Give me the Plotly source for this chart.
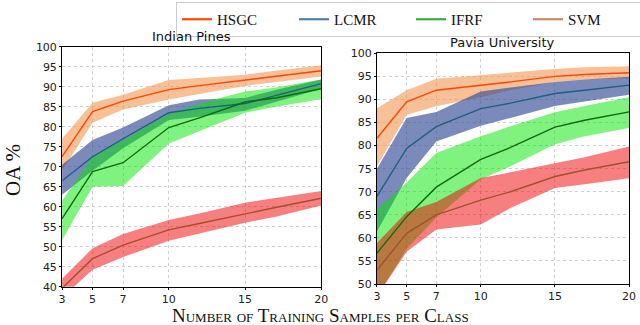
import plotly.graph_objects as go

# training samples per class
x_ip = [3, 5, 7, 10, 12, 15, 17, 20]
x_pu = [3, 5, 7, 10, 12, 15, 17, 20]

# Indian Pines (mean, upper, lower)
hsgc_ip = [72.5, 83.8, 86.4, 89.3, 90.3, 91.7, 92.7, 94.0]
hsgc_ip_hi = [77.0, 86.0, 88.0, 91.7, 92.2, 93.0, 94.0, 95.4]
hsgc_ip_lo = [69.0, 81.0, 84.3, 86.8, 88.2, 90.2, 91.2, 92.6]
lcmr_ip = [66.5, 72.5, 77.0, 83.5, 84.6, 85.8, 87.8, 90.8]
lcmr_ip_hi = [70.5, 76.7, 79.8, 85.4, 86.8, 87.2, 89.2, 91.8]
lcmr_ip_lo = [63.0, 69.0, 74.6, 81.7, 82.5, 84.0, 86.2, 89.5]
ifrf_ip = [57.0, 68.8, 71.0, 79.8, 82.2, 86.2, 87.2, 89.5]
ifrf_ip_hi = [61.5, 72.5, 76.7, 83.2, 85.8, 88.8, 89.8, 91.8]
ifrf_ip_lo = [51.7, 65.0, 65.2, 75.8, 78.8, 83.5, 85.0, 86.9]
svm_ip = [39.6, 47.0, 50.4, 54.2, 55.8, 58.3, 59.8, 62.1]
svm_ip_hi = [42.0, 49.6, 53.2, 56.7, 58.3, 61.0, 62.2, 63.9]
svm_ip_lo = [37.3, 44.2, 47.4, 51.5, 53.3, 56.0, 57.5, 60.3]

# Pavia University
hsgc_pu = [81.6, 89.5, 92.0, 93.0, 93.8, 95.0, 95.4, 95.8]
hsgc_pu_hi = [88.1, 92.0, 94.5, 95.3, 95.8, 96.6, 97.0, 97.2]
hsgc_pu_lo = [75.5, 86.7, 88.5, 90.5, 92.0, 93.8, 94.3, 94.6]
lcmr_pu = [69.0, 79.4, 84.1, 88.0, 89.2, 91.3, 92.0, 93.1]
lcmr_pu_hi = [75.0, 86.0, 87.3, 91.7, 92.6, 93.8, 94.3, 94.9]
lcmr_pu_lo = [61.4, 73.0, 80.9, 84.3, 86.0, 88.6, 89.6, 91.0]
ifrf_pu = [56.7, 64.6, 71.0, 77.0, 79.6, 84.0, 85.5, 87.3]
ifrf_pu_hi = [66.2, 72.0, 78.4, 82.0, 84.2, 87.2, 88.6, 90.5]
ifrf_pu_lo = [47.3, 57.6, 64.4, 72.7, 75.5, 80.3, 82.0, 83.8]
svm_pu = [53.0, 61.0, 65.0, 68.2, 70.0, 73.3, 74.7, 76.5]
svm_pu_hi = [58.9, 65.6, 67.8, 73.0, 74.2, 76.2, 77.5, 79.8]
svm_pu_lo = [47.3, 57.0, 61.8, 62.9, 66.5, 70.8, 71.6, 72.9]

methods = ["HSGC", "LCMR", "IFRF", "SVM"]
legend_colors = ["#ff4500", "#4f7ea8", "#3aaa45", "#c98a6c"]
line_colors = ["#ff4500", "#1f5f80", "#0f6a10", "#a0522d"]
band_colors = ["rgba(244,150,80,0.6)", "rgba(50,75,150,0.65)",
               "rgba(0,230,0,0.5)", "rgba(240,0,0,0.5)"]

ip = [(hsgc_ip, hsgc_ip_hi, hsgc_ip_lo), (lcmr_ip, lcmr_ip_hi, lcmr_ip_lo),
      (ifrf_ip, ifrf_ip_hi, ifrf_ip_lo), (svm_ip, svm_ip_hi, svm_ip_lo)]
pu = [(hsgc_pu, hsgc_pu_hi, hsgc_pu_lo), (lcmr_pu, lcmr_pu_hi, lcmr_pu_lo),
      (ifrf_pu, ifrf_pu_hi, ifrf_pu_lo), (svm_pu, svm_pu_hi, svm_pu_lo)]

fig = go.Figure()

for xs, data, xa, ya in [(x_ip, ip, "x", "y"), (x_pu, pu, "x2", "y2")]:
    for i, (m, hi, lo) in enumerate(data):
        fig.add_trace(go.Scatter(x=xs + xs[::-1], y=hi + lo[::-1], fill="toself",
                                 fillcolor=band_colors[i], line=dict(width=0),
                                 mode="lines", showlegend=False, hoverinfo="skip",
                                 xaxis=xa, yaxis=ya))
    for i, (m, hi, lo) in enumerate(data):
        fig.add_trace(go.Scatter(x=xs, y=m, mode="lines",
                                 line=dict(color=line_colors[i], width=1.4),
                                 showlegend=False, xaxis=xa, yaxis=ya))

# legend entries
for i, name in enumerate(methods):
    fig.add_trace(go.Scatter(x=[None], y=[None], mode="lines", name=name,
                             line=dict(color=legend_colors[i], width=2.2),
                             xaxis="x", yaxis="y"))

tickfont = dict(family="DejaVu Sans", size=11, color="#222")
grid = dict(showgrid=True, gridcolor="#d0d0d0", griddash="dot", gridwidth=1,
            showline=True, linecolor="black", linewidth=1, mirror=True,
            ticks="outside", ticklen=2, tickcolor="black", tickfont=tickfont,
            zeroline=False)

fig.update_layout(
    width=640, height=325,
    margin=dict(l=0, r=0, t=0, b=0, autoexpand=False),
    plot_bgcolor="white", paper_bgcolor="white",
    xaxis=dict(domain=[0.097, 0.502], range=[3, 20], tickvals=[3, 5, 7, 10, 15, 20], anchor="y", **grid),
    yaxis=dict(domain=[0.118, 0.856], range=[40, 100], dtick=5, anchor="x", **grid),
    xaxis2=dict(domain=[0.589, 0.983], range=[3, 20], tickvals=[3, 5, 7, 10, 15, 20], anchor="y2", **grid),
    yaxis2=dict(domain=[0.126, 0.836], range=[50, 100], dtick=5, anchor="x2", **grid),
    legend=dict(orientation="h", x=176 / 640, y=1 - 2 / 325, xanchor="left", yanchor="top",
                bordercolor="#cccccc", borderwidth=1, entrywidth=72,
                font=dict(family="Liberation Serif", size=15, color="#111"),
                tracegroupgap=0),
    annotations=[
        dict(text="Indian Pines", x=191, y=325 - 37, xref="paper", yref="paper", showarrow=False,
             xanchor="center", yanchor="middle",
             font=dict(family="DejaVu Sans", size=13, color="#111")),
        dict(text="Pavia University", x=502, y=325 - 42, xref="paper", yref="paper", showarrow=False,
             xanchor="center", yanchor="middle",
             font=dict(family="DejaVu Sans", size=13, color="#111")),
        dict(text="OA %", x=13, y=325 - 170, textangle=-90, xref="paper", yref="paper", showarrow=False,
             xanchor="center", yanchor="middle",
             font=dict(family="Liberation Serif", size=21, color="#111")),
        dict(text="Number of Training Samples per Class", x=320, y=325 - 315, xref="paper", yref="paper",
             showarrow=False, xanchor="center", yanchor="middle",
             font=dict(family="Liberation Serif", size=19, color="#111", variant="small-caps")),
    ],
)

# annotation positions given in pixels above; convert to paper fractions
for a in fig.layout.annotations:
    a.x = a.x / 640
    a.y = a.y / 325

fig.write_html("out.html", config={"displayModeBar": False},
               post_script="document.body.style.margin='0';")
